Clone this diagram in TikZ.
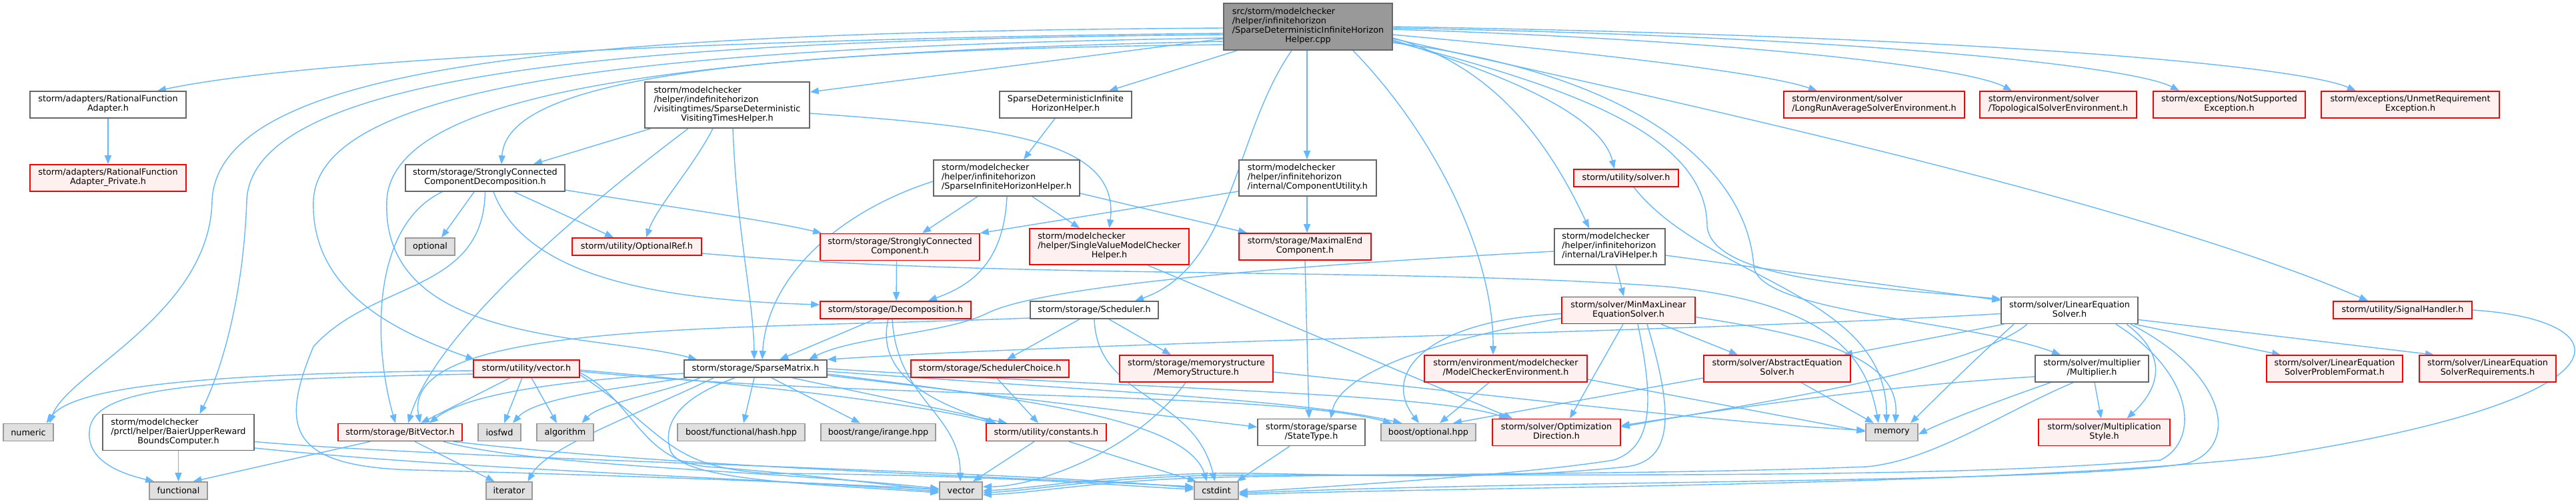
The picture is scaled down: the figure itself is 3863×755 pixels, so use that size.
\documentclass[tikz,border=0pt]{standalone}
\usepackage{fontspec}
\setmainfont{DejaVu Sans}
\usetikzlibrary{arrows.meta}
\definecolor{edgeblue}{HTML}{63B8FF}
\definecolor{bordergray}{HTML}{666666}
\definecolor{sysborder}{HTML}{999999}
\definecolor{sysfill}{HTML}{E0E0E0}
\definecolor{rootfill}{HTML}{999999}
\definecolor{redborder}{HTML}{FF0000}
\definecolor{redfill}{HTML}{FFF0F0}
\newcommand{\tL}[1]{\begin{tabular}{@{}l@{}}#1\end{tabular}}
\newcommand{\tC}[1]{\begin{tabular}{@{}c@{}}#1\end{tabular}}
\newcommand{\mcc}[1]{\multicolumn{1}{@{}c@{}}{#1}}
\pgfdeclarelayer{bg}
\pgfsetlayers{bg,main}
\begin{document}
\begin{tikzpicture}[x=1pt,y=-1pt,
 nb/.style={draw=bordergray, fill=white, line width=1.6pt, inner sep=0pt, font=\fontsize{12.8}{14}\selectfont, text=black},
 nr/.style={nb, draw=redborder, fill=redfill},
 ns/.style={nb, draw=sysborder, fill=sysfill},
 nroot/.style={nb, draw=bordergray, fill=rootfill},
 e/.style={draw=edgeblue, line width=1.4pt, -{Triangle[length=13pt,width=10pt]}}]
\useasboundingbox (0,0) rectangle (3863,755);

% ---------- nodes ----------
\node[nroot,minimum width=253,minimum height=70] (root) at (1961.5,40) {\tL{src/storm/modelchecker\\/helper/infinitehorizon\\/SparseDeterministicInfiniteHorizon\\\mcc{Helper.cpp}}};
\node[nb,minimum width=234,minimum height=40] (adapt) at (162,157) {\tC{storm/adapters/RationalFunction\\Adapter.h}};
\node[nr,minimum width=234,minimum height=40] (adaptp) at (162,267) {\tC{storm/adapters/RationalFunction\\Adapter\_Private.h}};
\node[nb,minimum width=247,minimum height=69] (vth) at (1090.5,157.5) {\tL{storm/modelchecker\\/helper/indefinitehorizon\\/visitingtimes/SparseDeterministic\\\mcc{VisitingTimesHelper.h}}};
\node[nb,minimum width=198,minimum height=40] (sdihh) at (1598,157) {\tC{SparseDeterministicInfinite\\HorizonHelper.h}};
\node[nb,minimum width=219,minimum height=54] (sihh) at (1509.5,267) {\tL{storm/modelchecker\\/helper/infinitehorizon\\\mcc{/SparseInfiniteHorizonHelper.h}}};
\node[nb,minimum width=206,minimum height=54] (cu) at (1961,267) {\tL{storm/modelchecker\\/helper/infinitehorizon\\\mcc{/internal/ComponentUtility.h}}};
\node[nr,minimum width=157,minimum height=26] (solverh) at (2438.5,267) {storm/utility/solver.h};
\node[nr,minimum width=271,minimum height=40] (lrasolv) at (2810.5,157) {\tL{storm/environment/solver\\\mcc{/LongRunAverageSolverEnvironment.h}}};
\node[nr,minimum width=235,minimum height=40] (topo) at (3086.5,157) {\tL{storm/environment/solver\\\mcc{/TopologicalSolverEnvironment.h}}};
\node[nr,minimum width=228,minimum height=40] (notsup) at (3343,157) {\tC{storm/exceptions/NotSupported\\Exception.h}};
\node[nr,minimum width=267,minimum height=40] (unmet) at (3614.5,157) {\tC{storm/exceptions/UnmetRequirement\\Exception.h}};
\node[nb,minimum width=239,minimum height=40] (sccd) at (727.5,267) {\tC{storm/storage/StronglyConnected\\ComponentDecomposition.h}};
\node[ns,minimum width=74,minimum height=26] (optional) at (645,370) {optional};
\node[nr,minimum width=194,minimum height=26] (optref) at (955,370) {storm/utility/OptionalRef.h};
\node[nr,minimum width=239,minimum height=40] (scc) at (1349.5,370.5) {\tC{storm/storage/StronglyConnected\\Component.h}};
\node[nr,minimum width=239,minimum height=54] (svmch) at (1663.5,370) {\tL{storm/modelchecker\\/helper/SingleValueModelChecker\\\mcc{Helper.h}}};
\node[nr,minimum width=198,minimum height=40] (mec) at (1957,370) {\tC{storm/storage/MaximalEnd\\Component.h}};
\node[nb,minimum width=166,minimum height=54] (lravi) at (2414,370) {\tL{storm/modelchecker\\/helper/infinitehorizon\\\mcc{/internal/LraViHelper.h}}};
\node[nr,minimum width=226,minimum height=26] (decomp) at (1343,465) {storm/storage/Decomposition.h};
\node[nb,minimum width=192,minimum height=26] (sched) at (1641,465) {storm/storage/Scheduler.h};
\node[nr,minimum width=200,minimum height=40] (minmax) at (2442,465.5) {\tC{storm/solver/MinMaxLinear\\EquationSolver.h}};
\node[nb,minimum width=205,minimum height=40] (les) at (3103.5,465.5) {\tC{storm/solver/LinearEquation\\Solver.h}};
\node[nr,minimum width=208,minimum height=26] (signal) at (3603,465) {storm/utility/SignalHandler.h};
\node[nr,minimum width=159,minimum height=26] (vectorh) at (789.5,553) {storm/utility/vector.h};
\node[nb,minimum width=214,minimum height=26] (spm) at (1133,553) {storm/storage/SparseMatrix.h};
\node[nr,minimum width=237,minimum height=26] (schedc) at (1484.5,553) {storm/storage/SchedulerChoice.h};
\node[nr,minimum width=230,minimum height=40] (memstr) at (1794,553) {\tC{storm/storage/memorystructure\\/MemoryStructure.h}};
\node[nr,minimum width=244,minimum height=40] (mce) at (2258,553) {\tC{storm/environment/modelchecker\\/ModelCheckerEnvironment.h}};
\node[nr,minimum width=220,minimum height=40] (aes) at (2665,553) {\tC{storm/solver/AbstractEquation\\Solver.h}};
\node[nb,minimum width=170,minimum height=40] (mult) at (3137,553) {\tC{storm/solver/multiplier\\/Multiplier.h}};
\node[nr,minimum width=204,minimum height=40] (lespf) at (3501,553) {\tC{storm/solver/LinearEquation\\SolverProblemFormat.h}};
\node[nr,minimum width=205,minimum height=40] (lesreq) at (3730.5,553) {\tC{storm/solver/LinearEquation\\SolverRequirements.h}};
\node[ns,minimum width=75,minimum height=26] (numeric) at (42.5,648.5) {numeric};
\node[nb,minimum width=227,minimum height=54] (baier) at (267.5,648.5) {\tL{storm/modelchecker\\/prctl/helper/BaierUpperReward\\\mcc{BoundsComputer.h}}};
\node[nr,minimum width=186,minimum height=26] (bitvec) at (600,648.5) {storm/storage/BitVector.h};
\node[ns,minimum width=64,minimum height=26] (iosfwd) at (749,648.5) {iosfwd};
\node[ns,minimum width=85,minimum height=26] (algorithm) at (847.5,648.5) {algorithm};
\node[ns,minimum width=191,minimum height=26] (hash) at (1111.5,648.5) {boost/functional/hash.hpp};
\node[ns,minimum width=172,minimum height=26] (irange) at (1317,648.5) {boost/range/irange.hpp};
\node[nr,minimum width=180,minimum height=26] (constants) at (1569,648.5) {storm/utility/constants.h};
\node[nb,minimum width=161,minimum height=40] (statetype) at (1966.5,648.5) {\tC{storm/storage/sparse\\/StateType.h}};
\node[ns,minimum width=142,minimum height=26] (boostopt) at (2142,648.5) {boost/optional.hpp};
\node[nr,minimum width=192,minimum height=40] (optdir) at (2334,648.5) {\tC{storm/solver/Optimization\\Direction.h}};
\node[ns,minimum width=78,minimum height=26] (memory) at (2837,648.5) {memory};
\node[nr,minimum width=197,minimum height=40] (multstyle) at (3155.5,648.5) {\tC{storm/solver/Multiplication\\Style.h}};
\node[ns,minimum width=87,minimum height=26] (functional) at (267.5,736) {functional};
\node[ns,minimum width=69,minimum height=26] (iterator) at (763.5,736) {iterator};
\node[ns,minimum width=64,minimum height=26] (vector) at (1441,736) {vector};
\node[ns,minimum width=66,minimum height=26] (cstdint) at (1824,736) {cstdint};

\begin{pgfonlayer}{bg}
% ---------- root ----------
\draw[e] ([yshift=-2]root.west) .. controls (900,48) and (330,90) .. (318,300) .. controls (316,470) and (100,560) .. ([xshift=32]numeric.north);
\draw[e] ([yshift=-10]root.west) .. controls (1300,55) and (500,80) .. ([xshift=74]adapt.north);
\draw[e] ([yshift=-12]root.west) .. controls (1000,60) and (380,100) .. (370,300) .. controls (365,450) and (330,560) .. ([xshift=32]baier.north);
\draw[e] ([yshift=-17]root.west) .. controls (1000,70) and (480,120) .. (470,300) .. controls (465,440) and (600,500) .. ([xshift=-78]vectorh.north);
\draw[e] ([yshift=-22]root.west) .. controls (1000,80) and (590,140) .. (580,300) .. controls (570,520) and (900,500) .. ([xshift=-88]spm.north);
\draw[e] ([yshift=-27]root.west) .. controls (1100,75) and (760,120) .. ([xshift=24.5]sccd.north);
\draw[e] ([yshift=-18]root.west) -- ([yshift=19.5]vth.east);
\draw[e] ([xshift=-106.5]root.south) -- ([xshift=65]sdihh.north);
\draw[e] ([xshift=-1.5]root.south) -- ([xshift=-1]cu.north);
\draw[e] ([xshift=-24.5]root.south) .. controls (1850,200) and (1850,400) .. ([xshift=61]sched.north);
\draw[e] ([xshift=67.5]root.south) .. controls (2150,200) and (2240,380) .. ([xshift=-19]mce.north);
\draw[e] ([yshift=-17]root.east) .. controls (2250,100) and (2330,230) .. ([xshift=-31]lravi.north);
\draw[e] ([yshift=-20]root.east) .. controls (2250,110) and (2400,170) .. ([xshift=-17.5]solverh.north);
\draw[e] ([yshift=-22]root.east) .. controls (2350,130) and (2560,200) .. (2560,340) .. controls (2570,420) and (2800,430) .. ([yshift=17]les.west);
\draw[e] ([yshift=-24]root.east) .. controls (2450,110) and (2620,250) .. (2630,400) .. controls (2640,470) and (2950,480) .. ([xshift=-47]mult.north);
\draw[e] ([yshift=-18]root.east) .. controls (2500,150) and (3200,300) .. ([xshift=-52]signal.north);
\draw[e] ([yshift=-12]root.east) .. controls (2400,80) and (2650,110) .. ([xshift=-85.5]lrasolv.north);
\draw[e] ([yshift=-4]root.east) .. controls (2600,60) and (2950,100) .. ([xshift=-69.5]topo.north);
\draw[e] ([yshift=-2]root.east) .. controls (2800,55) and (3200,100) .. ([xshift=-75]notsup.north);
\draw[e] (root.east) .. controls (3000,55) and (3450,100) .. ([xshift=-81.5]unmet.north);
% ---------- adapter ----------
\draw[e] (adapt.south) -- (adaptp.north);
% ---------- visiting times ----------
\draw[e] ([xshift=-114.5]vth.south) -- ([xshift=72.5]sccd.north);
\draw[e] ([xshift=-21.5]vth.south) .. controls (1040,250) and (985,310) .. ([xshift=14]optref.north);
\draw[e] ([xshift=-58.5]vth.south) .. controls (930,270) and (660,480) .. ([xshift=12]bitvec.north);
\draw[e] ([xshift=8.5]vth.south) .. controls (1105,350) and (1130,450) .. ([xshift=-2]spm.north);
\draw[e] ([yshift=-12.5]vth.east) .. controls (1500,190) and (1680,210) .. (svmch.north);
% ---------- SCC decomposition ----------
\draw[e] ([xshift=-16.5]sccd.south) -- ([xshift=17]optional.north);
\draw[e] ([xshift=43.5]sccd.south) -- ([xshift=-35]optref.north);
\draw[e] ([xshift=-64.5]sccd.south) .. controls (555,340) and (560,520) .. ([xshift=-7]bitvec.north);
\draw[e] (sccd.south) .. controls (725,440) and (560,420) .. (470,520) .. controls (420,640) and (430,700) .. (620,705) .. controls (900,712) and (1250,725) .. ([yshift=2]vector.west);
\draw[e] ([yshift=-18]sccd.east) .. controls (1000,310) and (1150,330) .. ([xshift=3]scc.north west);
\draw[e] ([xshift=12.5]sccd.south) .. controls (790,420) and (1000,450) .. ([yshift=8]decomp.west);
% ---------- infinite horizon helpers ----------
\draw[e] ([xshift=-16]sdihh.south) -- ([xshift=25.5]sihh.north);
\draw[e] ([xshift=-43.5]sihh.south) -- ([xshift=33.5]scc.north);
\draw[e] ([xshift=38.5]sihh.south) -- ([xshift=-44.5]svmch.north);
\draw[e] ([yshift=-23]sihh.east) -- ([xshift=-87]mec.north);
\draw[e] ([xshift=0.5]sihh.south) .. controls (1505,400) and (1450,430) .. ([xshift=49]decomp.north);
\draw[e] ([yshift=-5]sihh.west) .. controls (1250,320) and (1150,420) .. ([xshift=10]spm.north);
\draw[e] ([yshift=-20]cu.west) -- (scc.north east);
\draw[e] ([xshift=-1]cu.south) -- ([xshift=3]mec.north);
\draw[e] (mec.south) -- ([xshift=-3.5]statetype.north);
\draw[e] ([xshift=57.5]svmch.south) -- ([xshift=-66]optdir.north);
\draw[e] ([xshift=-5]scc.south) -- ([xshift=1]decomp.north);
% ---------- scheduler ----------
\draw[e] ([xshift=-22]sched.south) -- ([xshift=25.5]schedc.north);
\draw[e] ([xshift=22]sched.south) -- ([xshift=-38]memstr.north);
\draw[e] (sched.south) .. controls (1645,600) and (1790,590) .. ([xshift=-2]cstdint.north);
\draw[e] ([yshift=-12]sched.west) .. controls (1100,495) and (600,480) .. ([xshift=30]bitvec.north);
% ---------- decomposition ----------
\draw[e] ([xshift=-31]decomp.south) -- ([xshift=36]spm.north);
\draw[e] ([xshift=-11]decomp.south) .. controls (1310,570) and (1420,610) .. ([xshift=-75]constants.north);
\draw[e] ([xshift=-5]decomp.south) .. controls (1345,600) and (1440,620) .. ([xshift=-1]vector.north);
% ---------- sparse matrix ----------
\draw[e] ([xshift=-2]spm.south) -- ([xshift=3.5]hash.north);
\draw[e] ([xshift=24]spm.south) -- ([xshift=-27]irange.north);
\draw[e] ([xshift=55]spm.south) -- ([xshift=-59]constants.north);
\draw[e] ([yshift=-10]spm.east) -- ([yshift=8]statetype.west);
\draw[e] ([yshift=-8]spm.east) .. controls (1550,600) and (1780,630) .. ([xshift=-14]cstdint.north);
\draw[e] ([xshift=-31]spm.south) .. controls (1010,600) and (995,640) .. (1005,675) .. controls (1020,720) and (1200,725) .. ([yshift=-3]vector.west);
\draw[e] ([yshift=-7]spm.west) .. controls (850,570) and (700,590) .. ([xshift=44]bitvec.north);
\draw[e] ([xshift=5]spm.south west) .. controls (900,585) and (800,600) .. ([xshift=20]iosfwd.north);
\draw[e] ([xshift=25]spm.south west) .. controls (990,590) and (900,605) .. ([xshift=25]algorithm.north);
\draw[e] ([xshift=45]spm.south west) .. controls (960,620) and (820,670) .. ([xshift=28]iterator.north);
\draw[e] ([yshift=-4]spm.east) .. controls (1700,590) and (1950,600) .. ([xshift=-40]boostopt.north);
\draw[e] (spm.east) .. controls (1750,585) and (2150,590) .. ([xshift=-73]optdir.north);
% ---------- utility/vector.h ----------
\draw[e] ([yshift=-3]vectorh.west) .. controls (300,560) and (110,580) .. ([xshift=27]numeric.north);
\draw[e] ([yshift=-8]vectorh.west) .. controls (300,570) and (150,580) .. (135,640) .. controls (125,690) and (180,710) .. ([xshift=8]functional.north west);
\draw[e] ([xshift=-24.5]vectorh.south) -- ([xshift=31]bitvec.north);
\draw[e] ([xshift=-6.5]vectorh.south) -- ([xshift=7]iosfwd.north);
\draw[e] ([xshift=7.5]vectorh.south) -- ([xshift=-12.5]algorithm.north);
\draw[e] ([yshift=-2]vectorh.east) .. controls (1100,575) and (1350,600) .. ([xshift=-78]constants.north);
\draw[e] ([yshift=-6]vectorh.east) .. controls (950,600) and (960,690) .. (1060,700) .. controls (1200,710) and (1350,730) .. ([yshift=1]vector.west);
\draw[e] ([yshift=-9]vectorh.east) .. controls (1000,650) and (1000,700) .. (1150,710) .. controls (1500,712) and (1700,730) .. ([yshift=2]cstdint.west);
\draw[e] ([yshift=-4]vectorh.east) .. controls (1300,600) and (1900,585) .. ([xshift=-55]boostopt.north);
% ---------- Baier ----------
\draw[e] (baier.south) -- (functional.north);
\draw[e] ([yshift=-23.5]baier.east) .. controls (700,705) and (1100,715) .. ([yshift=-1]vector.west);
\draw[e] ([yshift=-14]baier.east) .. controls (700,690) and (1500,705) .. ([yshift=4]cstdint.west);
% ---------- BitVector ----------
\draw[e] ([xshift=-45]bitvec.south) -- ([xshift=22]functional.north);
\draw[e] ([xshift=22]bitvec.south) -- ([xshift=-22]iterator.north);
\draw[e] ([xshift=65]bitvec.south) .. controls (800,700) and (1150,705) .. ([yshift=3]vector.west);
\draw[e] ([xshift=80]bitvec.south) .. controls (1000,700) and (1500,715) .. ([yshift=6]cstdint.west);
% ---------- constants, scheduler choice, memory structure, state type ----------
\draw[e] ([xshift=-18]constants.south) -- ([xshift=18]vector.north);
\draw[e] ([xshift=34]constants.south) -- ([xshift=-30]cstdint.north);
\draw[e] ([xshift=10]schedc.south) -- ([xshift=-12]constants.north);
\draw[e] ([xshift=-16]memstr.south) .. controls (1700,680) and (1550,730) .. ([yshift=6]vector.east);
\draw[e] ([yshift=-5]memstr.east) .. controls (2300,600) and (2600,635) .. ([yshift=3]memory.west);
\draw[e] ([xshift=-32.5]statetype.south) -- ([xshift=-3]cstdint.north east);
% ---------- environments, abstract solver ----------
\draw[e] ([xshift=-25]mce.south) -- ([xshift=17]boostopt.north);
\draw[e] ([yshift=-16]mce.east) -- ([yshift=1]memory.west);
\draw[e] ([yshift=-14]aes.west) -- ([xshift=37]boostopt.north);
\draw[e] ([xshift=36]aes.south) -- ([xshift=-27]memory.north);
% ---------- MinMax solver ----------
\draw[e] ([xshift=49]minmax.south) -- ([xshift=-59]aes.north);
\draw[e] ([xshift=-8]minmax.south) -- ([xshift=20]optdir.north);
\draw[e] ([yshift=-10]minmax.east) .. controls (2700,500) and (2850,530) .. ([xshift=5]memory.north);
\draw[e] ([yshift=-5]minmax.west) .. controls (2140,480) and (2070,560) .. ([xshift=-14]boostopt.north);
\draw[e] ([yshift=-12]minmax.west) .. controls (2150,510) and (2010,560) .. ([xshift=29]statetype.north);
\draw[e] ([xshift=14]minmax.south) .. controls (2480,600) and (2480,670) .. (2420,690) .. controls (2300,710) and (2000,730) .. ([yshift=-2]cstdint.east);
\draw[e] ([xshift=28]minmax.south) .. controls (2510,620) and (2510,690) .. (2440,700) .. controls (2200,725) and (1950,708) .. (1824,710) .. controls (1650,713) and (1550,733) .. (vector.east);
% ---------- Linear equation solver ----------
\draw[e] ([yshift=-5]les.west) .. controls (2500,500) and (1700,510) .. (spm.north east);
\draw[e] ([xshift=-98.5]les.south) -- ([xshift=100]aes.north);
\draw[e] ([xshift=-83.5]les.south) .. controls (2960,540) and (2900,600) .. ([xshift=28]memory.north);
\draw[e] ([xshift=-63.5]les.south) .. controls (2950,560) and (2600,610) .. ([yshift=8]optdir.east);
\draw[e] ([xshift=85.5]les.south) .. controls (3260,540) and (3230,590) .. ([xshift=34]multstyle.north);
\draw[e] ([xshift=97.5]les.south) -- ([xshift=-81]lespf.north);
\draw[e] ([yshift=-14]les.east) -- ([xshift=-80.5]lesreq.north);
\draw[e] ([xshift=69.5]les.south) .. controls (3290,560) and (3300,660) .. (3240,690) .. controls (2900,720) and (2300,710) .. (1824,713) .. controls (1650,716) and (1550,736) .. ([yshift=-3]vector.east);
\draw[e] ([xshift=91.5]les.south) .. controls (3340,560) and (3360,670) .. (3280,695) .. controls (3100,725) and (2300,720) .. ([yshift=-4]cstdint.east);
% ---------- Multiplier ----------
\draw[e] ([xshift=4]mult.south) -- ([xshift=-4.5]multstyle.north);
\draw[e] ([xshift=-62]mult.south) .. controls (3000,600) and (2920,630) .. ([yshift=-3]memory.east);
\draw[e] ([yshift=-12]mult.west) .. controls (2800,580) and (2550,620) .. ([yshift=10]optdir.east);
\draw[e] ([xshift=-28]mult.south) .. controls (3000,620) and (2900,690) .. (2800,700) .. controls (2500,712) and (2100,710) .. (1824,716) .. controls (1650,720) and (1550,740) .. ([yshift=-6]vector.east);
% ---------- SignalHandler ----------
\draw[e] (signal.east) .. controls (3940,480) and (3960,600) .. (3400,685) .. controls (3000,730) and (2200,730) .. ([yshift=-6]cstdint.east);
% ---------- solver.h, OptionalRef, LraVi ----------
\draw[e] ([xshift=11.5]solverh.south) .. controls (2560,420) and (2830,440) .. ([xshift=-8]memory.north);
\draw[e] ([yshift=-10]optref.east) .. controls (1500,420) and (2100,400) .. (2500,430) .. controls (2750,455) and (2800,540) .. ([xshift=-20]memory.north);
\draw[e] ([xshift=9]lravi.south) -- ([xshift=-7]minmax.north);
\draw[e] ([yshift=-13]lravi.east) -- ([yshift=15]les.west);
\draw[e] ([yshift=-7]lravi.west) .. controls (1900,400) and (1560,430) .. (1480,470) .. controls (1420,500) and (1280,505) .. ([xshift=80]spm.north);
\end{pgfonlayer}
\end{tikzpicture}
\end{document}
